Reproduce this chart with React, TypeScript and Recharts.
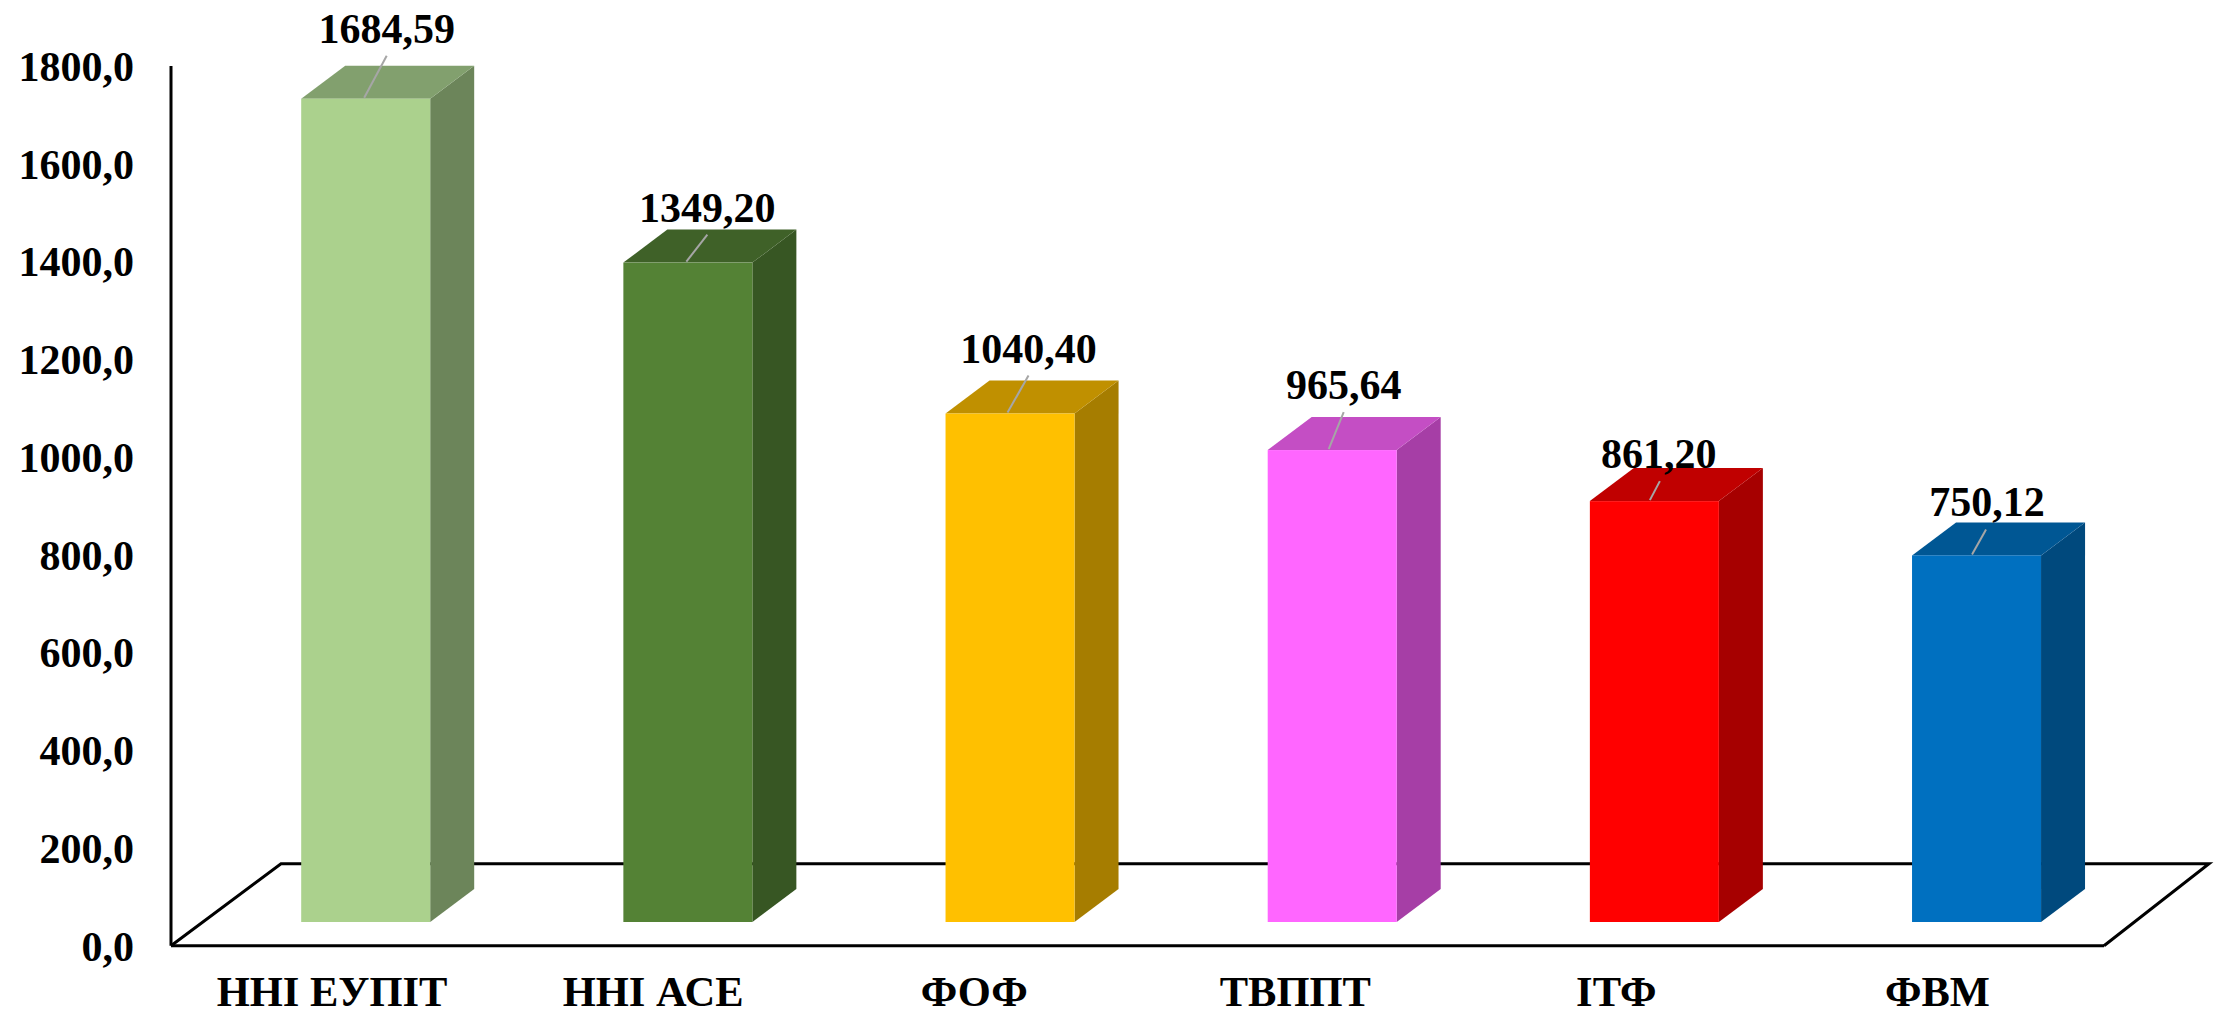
import { BarChart, Bar, XAxis, YAxis, LabelList, Customized, usePlotArea } from "recharts";

const categories = ["ННІ ЕУПІТ", "ННІ АСЕ", "ФОФ", "ТВППТ", "ІТФ", "ФВМ"];
const values = [1684.59, 1349.2, 1040.4, 965.64, 861.2, 750.12];
const yTicks = [0, 200, 400, 600, 800, 1000, 1200, 1400, 1600, 1800];

const frontColors = ["#ABD18D", "#548235", "#FFC000", "#FF66FF", "#FF0000", "#0070C0"];
const topColors = ["#82A06E", "#3F6128", "#C09000", "#C44EC4", "#C00000", "#005794"];
const sideColors = ["#6C855A", "#375623", "#A67D00", "#A63EA6", "#A60000", "#00497D"];

// label shift from the bar's front-top centre: [text dx, baseline dy, leader start dx, leader tip dx, leader tip dy]
const labelShifts = [
  [21, -56, -1.5, 21, -43],
  [19.5, -41, -1.5, 19.5, -28],
  [18.5, -51, -2.5, 18.5, -38],
  [11.5, -51, -3.5, 11.5, -38],
  [4.5, -33, -4.5, 5.5, -20],
  [10.5, -39, -4.5, 9.5, -26],
];

const rows = categories.map((name, i) => ({ name, value: values[i] }));

const font = "'Liberation Serif', 'Times New Roman', serif";

// the bars stand in the middle of the floor, so they are pushed back from the axis plane
const standX = 33.2;
const standY = 23.7;
const depthX = 44;
const depthY = 33;

function Bar3D(props: any) {
  const { x, y, width, height, index } = props;
  const left = x + standX;
  const right = left + width;
  const top = y - standY;
  const bottom = top + height;
  return (
    <g>
      <polygon
        points={`${right},${top} ${right + depthX},${top - depthY} ${right + depthX},${bottom - depthY} ${right},${bottom}`}
        fill={sideColors[index]}
      />
      <polygon
        points={`${left},${top} ${left + depthX},${top - depthY} ${right + depthX},${top - depthY} ${right},${top}`}
        fill={topColors[index]}
      />
      <rect x={left} y={top} width={width} height={height} fill={frontColors[index]} />
    </g>
  );
}

function Floor() {
  const plot = usePlotArea();
  if (!plot) return null;
  const bottom = plot.y + plot.height;
  const d = `M${plot.x},${bottom} L${plot.x + 110},${bottom - 82} L${plot.x + plot.width + 105},${bottom - 82} L${plot.x + plot.width},${bottom}`;
  return <path d={d} fill="none" stroke="#000" strokeWidth={3} />;
}

function ValueLabel(props: any) {
  const { x, y, width, index, value } = props;
  const [dx, dy, startX, tipX, tipY] = labelShifts[index];
  const cx = x + standX + width / 2;
  const top = y - standY;
  return (
    <g>
      <line x1={cx + startX} y1={top - 1} x2={cx + tipX} y2={top + tipY} stroke="#A6A6A6" strokeWidth={2} />
      <text x={cx + dx} y={top + dy} textAnchor="middle" fontFamily={font} fontWeight="bold" fontSize={42} fill="#000">
        {Number(value).toFixed(2).replace(".", ",")}
      </text>
    </g>
  );
}

// category labels sit on a slightly tighter spacing than the bars
function CategoryTick(props: any) {
  const { x, index, payload } = props;
  return (
    <text x={x - index * 1.1} y={1006} textAnchor="middle" fontFamily={font} fontWeight="bold" fontSize={42.5} fill="#000">
      {payload.value}
    </text>
  );
}

export default function App() {
  return (
    <div style={{ position: "absolute", left: 0, top: 0, width: 2221, height: 1016, background: "#fff" }}>
      <BarChart
        width={2221}
        height={1016}
        data={rows}
        barSize={129}
        margin={{ top: 66, right: 117, left: 0, bottom: 0 }}
      >
        <Customized component={Floor} />
        <XAxis
          dataKey="name"
          height={70.3}
          interval={0}
          tickSize={0}
          axisLine={{ stroke: "#000", strokeWidth: 3 }}
          tick={<CategoryTick />}
        />
        <YAxis
          width={171}
          domain={[0, 1800]}
          ticks={yTicks}
          interval={0}
          tickSize={0}
          tickMargin={37}
          tickFormatter={(v: number) => v.toFixed(1).replace(".", ",")}
          axisLine={{ stroke: "#000", strokeWidth: 3 }}
          tick={{ fontFamily: font, fontWeight: "bold", fontSize: 42, fill: "#000" }}
        />
        <Bar dataKey="value" shape={<Bar3D />} isAnimationActive={false}>
          <LabelList dataKey="value" content={<ValueLabel />} />
        </Bar>
      </BarChart>
    </div>
  );
}
